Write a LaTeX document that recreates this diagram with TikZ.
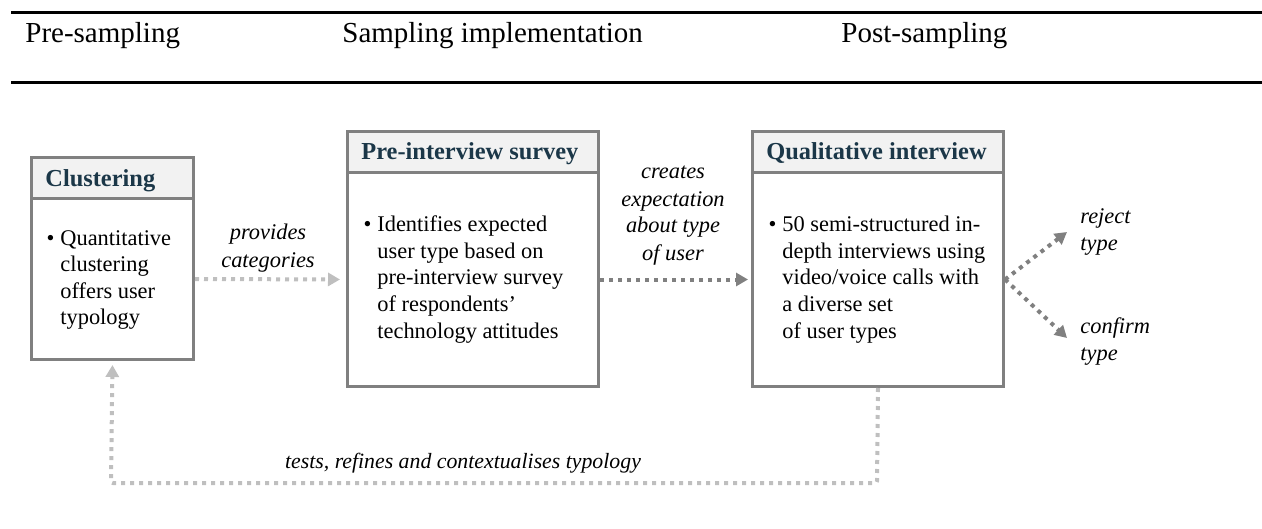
\documentclass[tikz,border=0pt]{standalone}
\usepackage{fontspec}
\setmainfont{Liberation Serif}
\usetikzlibrary{arrows.meta}
\definecolor{boxgray}{RGB}{128,128,128}
\definecolor{titlefill}{RGB}{242,242,242}
\definecolor{titleink}{RGB}{27,55,72}
\definecolor{lightdot}{RGB}{191,191,191}
\definecolor{darkdot}{RGB}{128,128,128}
\tikzset{
  titlebox/.style={draw=boxgray, fill=titlefill, line width=1.5pt, anchor=north west, minimum height=20.5pt, inner sep=0pt},
  bodybox/.style={draw=boxgray, fill=white, line width=1.5pt, anchor=north west, inner sep=0pt},
  titletext/.style={anchor=base west, inner sep=0pt, text=titleink, font=\fontsize{12.2}{14}\selectfont\bfseries},
  bodytext/.style={anchor=base west, inner sep=0pt, font=\fontsize{11.2}{13.25}\selectfont},
  labeltext/.style={inner sep=0pt, font=\fontsize{11.2}{13.5}\selectfont\itshape},
  headtext/.style={anchor=base west, inner sep=0pt, font=\fontsize{14.5}{17}\selectfont},
  dotline/.style={line width=2pt, line cap=butt, dash pattern=on 2pt off 2.5pt, -{Triangle[length=6pt,width=6.5pt]}},
  lightarrow/.style={dotline, draw=lightdot},
  darkarrow/.style={dotline, draw=darkdot},
  rule/.style={line width=1.6pt, black}
}
\newcommand{\bul}{\llap{\textbullet\hspace{3pt}}}
\begin{document}
\begin{tikzpicture}[x=0.5pt,y=-0.5pt]
\useasboundingbox (0,0) rectangle (1262,529);
% header rules
\draw[rule] (11,12.5) -- (1262,12.5);
\draw[rule] (11,82.5) -- (1262,82.5);
\node[headtext] (h1) at (25,43) {Pre-sampling};
\node[headtext] (h2) at (342,43) {Sampling implementation};
\node[headtext] (h3) at (841,43) {Post-sampling};
% Clustering
\node[titlebox, minimum width=81pt] (clusT) at (30,156) {};
\node[bodybox, minimum width=81pt, minimum height=80.5pt] (clusB) at (30,197) {};
\node[titletext] (clusTt) at (45,186.5) {Clustering};
\node[bodytext] (clusBt) at (60,245) {\begin{tabular}[t]{@{}l@{}}\bul Quantitative\\clustering\\offers user\\typology\end{tabular}};
% Pre-interview survey
\node[titlebox, minimum width=125.5pt] (preT) at (346,130) {};
\node[bodybox, minimum width=125.5pt, minimum height=107pt] (preB) at (346,171) {};
\node[titletext] (preTt) at (361,159.5) {Pre-interview survey};
\node[bodytext] (preBt) at (377,232) {\begin{tabular}[t]{@{}l@{}}\bul Identifies expected\\user type based on\\pre-interview survey\\of respondents’\\technology attitudes\end{tabular}};
% Qualitative interview
\node[titlebox, minimum width=125.5pt] (qualT) at (751,130) {};
\node[bodybox, minimum width=125.5pt, minimum height=107pt] (qualB) at (751,171) {};
\node[titletext] (qualTt) at (766,159.5) {Qualitative interview};
\node[bodytext] (qualBt) at (782,232) {\begin{tabular}[t]{@{}l@{}}\bul 50 semi-structured in-\\depth interviews using\\video/voice calls with\\a diverse set\\of user types\end{tabular}};
% connectors
\draw[lightarrow, shorten >=3pt] (clusB.east) -- (preB.west);
\draw[darkarrow, shorten >=1.5pt] (preB.east) -- (qualB.west);
\coordinate (rejEnd) at (1067,232);
\coordinate (conEnd) at (1067,338);
\draw[darkarrow] (qualB.east) -- (rejEnd);
\draw[darkarrow] (qualB.east) -- (conEnd);
\coordinate (loopR) at (877,483);
\coordinate (loopL) at (111,483);
\draw[lightarrow, rounded corners=1pt, shorten >=2pt] (qualB.south) -- (loopR) -- (loopL) -- (clusB.south);
% labels
\node[labeltext, anchor=base] (lab1) at (268,240) {\begin{tabular}[t]{@{}c@{}}provides\\categories\end{tabular}};
\node[labeltext, anchor=base] (lab2) at (673,179) {\begin{tabular}[t]{@{}c@{}}creates\\expectation\\about type\\of user\end{tabular}};
\node[labeltext, anchor=base west] (lab3) at (1080,223) {\begin{tabular}[t]{@{}l@{}}reject\\type\end{tabular}};
\node[labeltext, anchor=base west] (lab4) at (1080,333) {\begin{tabular}[t]{@{}l@{}}confirm\\type\end{tabular}};
\node[labeltext, anchor=base, font=\fontsize{10.9}{13}\selectfont\itshape] (lab5) at (463,468) {tests, refines and contextualises typology};
\end{tikzpicture}
\end{document}
